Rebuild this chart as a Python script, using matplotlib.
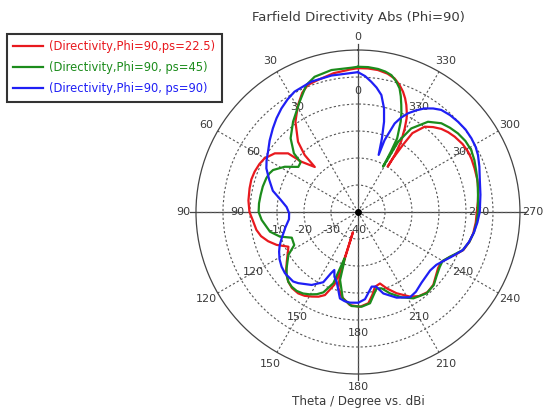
import numpy as np
import matplotlib
matplotlib.use('Agg')
import matplotlib.pyplot as plt

# ------------------------------------------------------------------
# Farfield directivity, Phi=90 cut (dBi)
# ------------------------------------------------------------------
labels = ['(Directivity,Phi=90,ps=22.5)',
          '(Directivity,Phi=90, ps=45)',
          '(Directivity,Phi=90, ps=90)']

theta_red = [0, 3, 10, 17, 21.5, 25, 29.3, 34.7, 40.5, 43.1, 43.8, 48.4, 50, 54.8,
             60.1, 64, 68.7, 73, 77.7, 84, 90, 94, 100, 104, 108, 112, 116.5, 120, 125,
             130, 135, 139, 143.7, 147.5, 151.3, 155, 158.3, 162, 163.2, 164, 166,
             165, 164.3, 164.2, 165.5, 169, 175, 181.2, 186.5, 190, 192.8, 197.1,
             200.6, 205.4, 211.6, 216, 221, 226, 231, 235, 239, 244, 247, 250.2, 255,
             259.5, 265, 270, 275, 280.4, 285, 290.5, 295, 298.7, 303, 307.9, 311.5,
             314.9, 318.5, 322, 325.4, 326.2, 326.9, 326.8, 327.2, 328.5, 330.8,
             332.5, 334, 335.7, 337.5, 339.5, 342, 344.7, 348, 352, 356, 360]
db_red = [13.3, 12.9, 12.2, 11.1, 10.6, 8.8, 5.4, 0.7, -5.8, -11.1, -16.9, -11.9, -6.2, -2.3,
          -0.1, 0.6, 1.1, 1.3, 1.1, 0.8, 0.2, -0.8, -1.8, -3, -5, -7.5, -11.2, -10, -7.8,
          -5.2, -3.5, -2.7, -2.6, -3.2, -4.3, -5.4, -6.9, -11.7, -16.9, -23.4, -32.3,
          -28.5, -22.8, -15.2, -11, -8.1, -5.4, -4.9, -6, -9, -11.6, -12.3,
          -9.8, -6.7, -3.2, -1.5, -0.7, -1.2, -2.8, -3.8, -4, -2.1, -0.3, 1.5, 2.7,
          3.4, 3.8, 4, 4.6, 5.3, 5.8, 6.1, 6.4, 6.5, 6.2, 5.4, 4.6,
          3.6, 2.0, 0.1, -4.5, -10, -16.3, -19.9, -14.9, -9.5, -4.5,
          -1, 1.2, 3.5, 5.6, 7.6, 9.6, 11.3, 12.4, 13.1, 13.3, 13.3]

theta_green = [0, 2.6, 10.6, 17.8, 22.1, 27.9, 35.7, 42.4, 47.5, 49.1, 52.9, 58.3, 63.7,
               66.5, 69.8, 75, 80, 85, 90, 94.7, 102.6, 107.5, 111.2, 117.4, 121.7, 128.3,
               131.5, 135, 138.5, 142.2, 146, 149.8, 153.5, 156.7, 160.9, 162.3, 163.8,
               164.6, 165.2, 170, 176.1, 182.2, 187.5, 193.7, 197.2, 201.5, 207.1, 212.7,
               220.2, 226, 231, 236, 240, 244.1, 250, 255, 260, 265, 270, 278.1, 283.5,
               288.8, 294, 298.7, 303.5, 308.2, 312.5, 316.8, 322.2, 327.5, 330.2, 330.6,
               331.1, 331.4, 332, 334.7, 336.3, 338, 339.7, 341.4, 343.8, 346.3, 349, 352,
               356, 360]
db_green = [13.8, 13.5, 13.5, 12.6, 10.8, 6.2, 1.2, -3, -7.8, -11.9, -12.3, -8.1, -4.9,
            -4.2, -3.8, -3.5, -3.4, -3.2, -3.2, -4.2, -6.6, -9.7, -13.7, -13.4, -9.7, -6.3,
            -4.7, -3.5, -3.0, -3.0, -3.6, -4.7, -6, -7.6, -12.1, -18.1, -22.1,
            -20, -14, -7.5, -5.1, -4.9, -5.9, -10.9, -10.4, -7.6, -4.5, -2,
            -0.6, -1, -2.5, -3.5, -3.8, -2.1, 1.3, 2.7, 3.6, 4.1, 4.4, 4.9, 5.6,
            6.3, 7.2, 7.8, 7.7, 7.1, 6.2, 5.1, 2.3, -3.3, -10, -16.4,
            -20.8, -14.5, -9.1, -3, 0, 2.8, 5.7, 8.3, 10.5, 12.2, 13.0, 13.5,
            13.8, 13.8]

theta_blue = [0, 11, 19.7, 27.8, 32, 36.5, 41, 45.5, 51, 56.2, 60.5, 64.5, 70, 76, 81, 86,
              91, 96, 102, 109, 113, 116.7, 121, 125.6, 130, 137, 140, 147.6, 153.7, 156.2,
              157.8, 160, 163, 168.2, 171.5, 175, 180.2, 184.6, 190.4, 193.6, 197.3, 204.3,
              211.4, 216, 222, 231, 236, 240, 244, 250, 255, 260, 265, 270, 278, 285.5,
              290.5, 295.4, 299, 303, 307.5, 312.1, 316.5, 320.8, 324, 327.3, 330.2, 333.1,
              335.5, 337.5, 339.7, 340.1, 342, 343.9, 345.9, 348.7, 351.5, 354.2, 357, 360]
db_blue = [11.8, 11.5, 11.3, 10.4, 9.2, 7.7, 6, 4.2, 2.1, 0.1, -1.1, -2.4, -5, -7.5, -11, -13.5,
           -14.5, -14.3, -12.5, -10.1, -8.5, -7.3, -6.1, -5.2, -4.7, -4.8, -5.6, -8, -11, -15.2,
           -16.8, -14.5, -13, -7.3, -6.6, -6.3, -6.4, -7.6, -11.9, -11.6, -8.4, -5.2,
           -3, -3.5, -4.8, -5.6, -5, -3.6, -1.8, 1.3, 2.6, 3.6, 4.4, 5.1, 5.8, 6.8,
           8.0, 9.2, 9.8, 10.1, 10.2, 9.9, 9.5, 8.8, 7.4, 5.6, 3.4, 1.0,
           -1.6, -4.5, -11.6, -17.5, -11.3, -5.2, -0.4, 4.2, 6.6, 8.5, 10.4, 11.8]

angle_ticks = list(range(0, 360, 30))
ring_values = [-30, -20, -10, 0, 10]
ring_labels = ['-10', '-20', '-30', '-40']
ring_label_pos = [-10, -20, -30, -40]

txt = '#3a3a3a'

fig = plt.figure(figsize=(5.47, 4.12), dpi=100)
ax = fig.add_axes([0.3583, 0.0922, 0.5923, 0.7864], projection='polar')
ax.set_theta_zero_location('N')
ax.set_theta_direction(1)
ax.set_ylim(-40, 20)

ax.set_thetagrids(angle_ticks, labels=[''] * len(angle_ticks))
ax.set_rgrids(ring_values, labels=[''] * len(ring_values))
ax.grid(True, color='#555555', linestyle=(0, (2, 2)), linewidth=0.8)
ax.spines['polar'].set_color('#444444')
ax.spines['polar'].set_linewidth(0.9)

# solid axis cross, running a little past the outer circle
for a in [0, 90, 180, 270]:
    ax.plot([np.radians(a), np.radians(a)], [-40, 22.3], color='#444444', lw=0.9,
            clip_on=False, zorder=1)
ax.plot([0], [-40], 'o', color='black', ms=4, zorder=5)

# curves
ax.plot(np.radians(theta_red), db_red, color='#e8191e', lw=1.6, label=labels[0], zorder=4)
ax.plot(np.radians(theta_green), db_green, color='#1c8c1c', lw=1.6, label=labels[1], zorder=4)
ax.plot(np.radians(theta_blue), db_blue, color='#1f1ff5', lw=1.6, label=labels[2], zorder=4)

# angle labels, outer and inner ring
for a in angle_ticks:
    ax.text(np.radians(a), 24.8, str(a), ha='center', va='center', fontsize=8,
            color=txt, clip_on=False)
    ax.text(np.radians(a), 4.8, str(a), ha='center', va='center', fontsize=8,
            color=txt)

# radial labels along the left axis
for v, s in zip(ring_label_pos, ring_labels):
    ax.annotate(s, xy=(np.radians(90), v), xytext=(0, -13), textcoords='offset points',
                ha='center', va='center', fontsize=8, color=txt)

fig.text(0.6545, 1 - 17 / 412, 'Farfield Directivity Abs (Phi=90)', ha='center',
         va='center', fontsize=9.5, color=txt)
fig.text(0.6545, 1 - 401 / 412, 'Theta / Degree vs. dBi', ha='center',
         va='center', fontsize=8.6, color=txt)

leg = ax.legend(loc='upper left', bbox_to_anchor=(0.0128, 0.9175),
                bbox_transform=fig.transFigure, borderaxespad=0, fontsize=8.3,
                labelcolor='linecolor', fancybox=False, handlelength=2.6,
                handletextpad=0.5, labelspacing=0.7, borderpad=0.55)
leg.get_frame().set_edgecolor('black')
leg.get_frame().set_linewidth(1.5)

plt.savefig('out.png', dpi=100)
